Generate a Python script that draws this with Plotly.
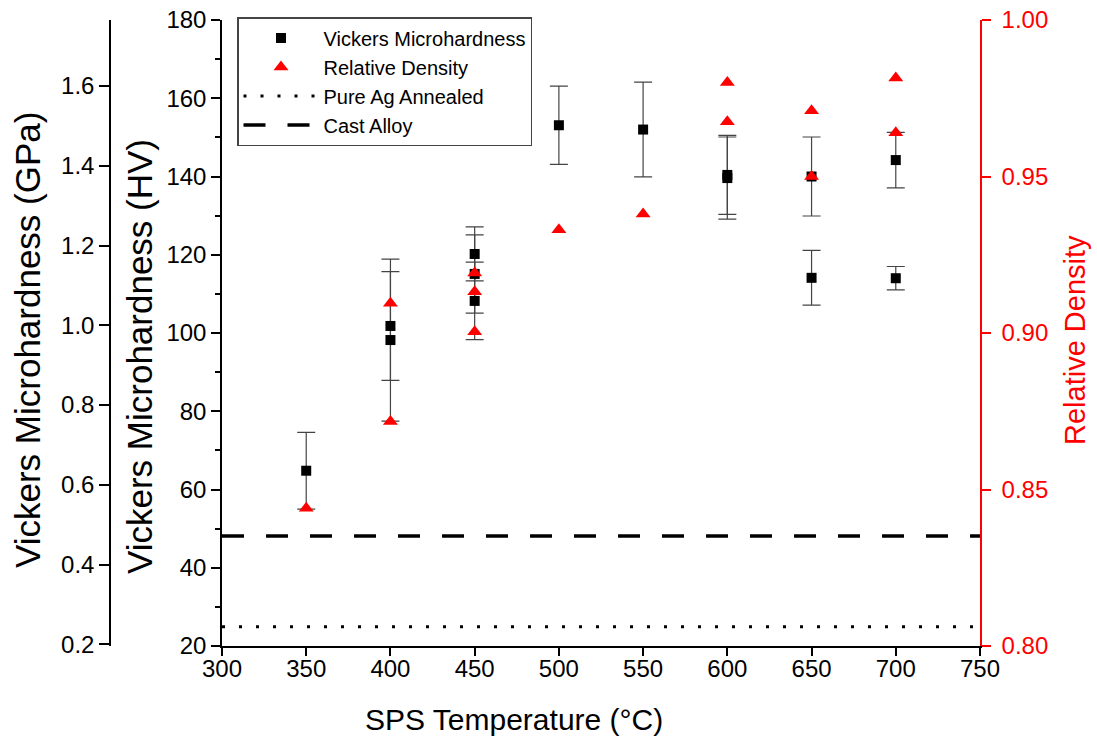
import plotly.graph_objects as go

# ---- data ----
temps_hv = [350, 400, 400, 450, 450, 450, 500, 550, 600, 600, 650, 650, 700, 700]
hv = [64.8, 101.8, 98.2, 120.2, 115.1, 108.2, 153.1, 152.0, 140.4, 139.6, 140.0, 114.1, 144.2, 114.0]
hv_err = [9.8, 13.9, 20.7, 6.9, 10.0, 9.9, 10.0, 12.1, 10.1, 10.5, 10.1, 7.0, 7.1, 3.0]

temps_rd = [350, 400, 400, 450, 450, 450, 500, 550, 600, 600, 650, 650, 700, 700]
rel_density = [0.844, 0.9095, 0.8717, 0.9192, 0.9132, 0.9004, 0.933, 0.938, 0.980, 0.9675, 0.971, 0.950, 0.9815, 0.964]

pure_ag_hv = 24.9
cast_alloy_hv = 48.1
x_span = [300, 750]

x_ticks = [300, 350, 400, 450, 500, 550, 600, 650, 700, 750]
gpa_ticks = [0.2, 0.4, 0.6, 0.8, 1.0, 1.2, 1.4, 1.6]
rd_ticks = [0.80, 0.85, 0.90, 0.95, 1.00]
HV_TO_GPA = 0.0098067

W, H = 1097, 748
FONT = "Liberation Sans, Arial, sans-serif"
px_x = lambda p: p / W
px_y = lambda p: 1 - p / H

fig = go.Figure()

fig.add_trace(go.Scatter(
    x=temps_hv, y=hv, mode="markers", name="Vickers Microhardness",
    marker=dict(symbol="square", size=10, color="black"),
    error_y=dict(type="data", array=hv_err, visible=True, color="#444", thickness=1.2, width=9),
    yaxis="y"))
fig.add_trace(go.Scatter(
    x=temps_rd, y=rel_density, mode="markers", name="Relative Density",
    marker=dict(symbol="triangle-up", size=13, color="red"),
    yaxis="y3"))
fig.add_trace(go.Scatter(
    x=x_span, y=[pure_ag_hv, pure_ag_hv], mode="lines", name="Pure Ag Annealed",
    line=dict(color="black", width=3, dash="3px,14px"), yaxis="y"))
fig.add_trace(go.Scatter(
    x=x_span, y=[cast_alloy_hv, cast_alloy_hv], mode="lines", name="Cast Alloy",
    line=dict(color="black", width=3.5, dash="22px,22px"), yaxis="y"))

ydom = [px_y(646), px_y(20)]
axis_common = dict(showgrid=False, zeroline=False, showline=True, ticks="outside",
                   linewidth=1.5, tickwidth=1.5)

fig.update_layout(
    width=W, height=H,
    margin=dict(l=0, r=0, t=0, b=0, autoexpand=False),
    paper_bgcolor="white", plot_bgcolor="white",
    font=dict(family=FONT, color="black", size=24),
    showlegend=True,
    legend=dict(x=px_x(237), y=px_y(17), xanchor="left", yanchor="top",
                bordercolor="#444", borderwidth=1.5, bgcolor="white",
                font=dict(size=20, family=FONT), tracegroupgap=0, itemwidth=75),
    xaxis=dict(domain=[px_x(222), px_x(980)], range=[300, 750], tickvals=x_ticks,
               linecolor="black", tickcolor="black", anchor="y", ticklen=8,
               ticklabelstandoff=-8,
               tickfont=dict(size=24), **axis_common),
    yaxis=dict(domain=ydom, range=[20, 180], tickvals=list(range(20, 181, 20)),
               linecolor="black", tickcolor="black", anchor="x", ticklen=9,
               minor=dict(dtick=10, ticks="outside", ticklen=5, tickcolor="black", tickwidth=1.5),
               tickfont=dict(size=24), **axis_common),
    yaxis2=dict(overlaying="y", anchor="free", position=px_x(110), side="left",
                range=[20 * HV_TO_GPA, 180 * HV_TO_GPA], tickvals=gpa_ticks,
                ticktext=[f"{v:.1f}" for v in gpa_ticks], ticklen=10,
                linecolor="black", tickcolor="black", tickfont=dict(size=24), **axis_common),
    yaxis3=dict(overlaying="y", anchor="x", side="right", range=[0.8, 1.0],
                tickvals=rd_ticks, ticktext=[f"{v:.2f}" for v in rd_ticks], ticklen=9,
                ticklabelstandoff=6,
                linecolor="red", tickcolor="red", tickfont=dict(size=24, color="red"),
                **axis_common),
)

# invisible trace so the GPa axis renders
fig.add_trace(go.Scatter(x=[None], y=[None], yaxis="y2", showlegend=False, hoverinfo="skip"))

ann = dict(xref="paper", yref="paper", showarrow=False, xanchor="center", yanchor="middle")
fig.add_annotation(text="SPS Temperature (°C)", x=px_x(514), y=px_y(719),
                   font=dict(size=30, family=FONT), **ann)
fig.add_annotation(text="Vickers Microhardness (GPa)", x=px_x(27), y=px_y(340), textangle=-90,
                   font=dict(size=35, family=FONT), **ann)
fig.add_annotation(text="Vickers Microhardness (HV)", x=px_x(139), y=px_y(356), textangle=-90,
                   font=dict(size=35, family=FONT), **ann)
fig.add_annotation(text="Relative Density", x=px_x(1075), y=px_y(340), textangle=-90,
                   font=dict(size=29, family=FONT, color="red"), **ann)

fig.write_html("out.html")
